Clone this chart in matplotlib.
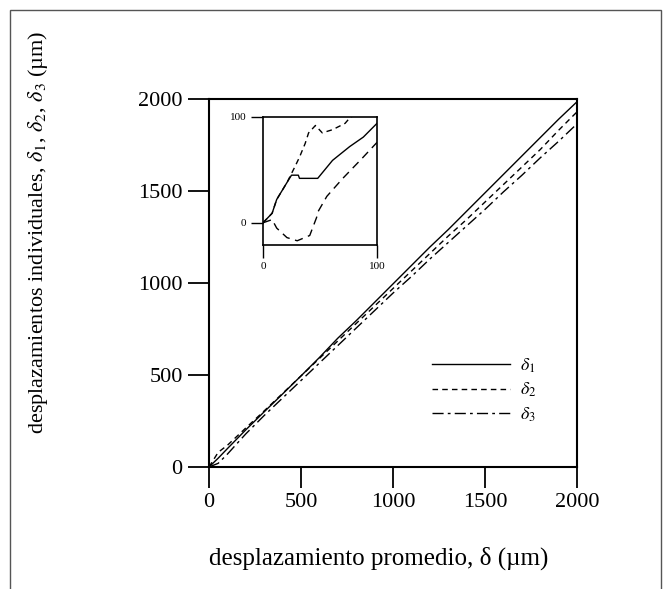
import matplotlib
matplotlib.use("Agg")
import matplotlib.pyplot as plt
from matplotlib.patches import Rectangle

plt.rcParams['font.family'] = ['Liberation Serif', 'DejaVu Serif']
plt.rcParams['mathtext.fontset'] = 'stix'

# main plot: average displacement vs individual displacements (um)
x_main = [0, 50, 100, 200, 300, 400, 500, 600, 700, 800, 900, 1000,
          1100, 1200, 1300, 1400, 1500, 1600, 1700, 1800, 1900, 2000]
d1_main = [0, 48, 100, 202, 300, 397, 495, 595, 700, 795, 895, 995,
           1095, 1195, 1290, 1390, 1490, 1590, 1690, 1790, 1890, 1985]
d2_main = [0, 80, 118, 212, 305, 400, 495, 590, 685, 780, 875, 970,
           1065, 1160, 1255, 1345, 1440, 1535, 1630, 1725, 1830, 1930]
d3_main = [0, 20, 70, 180, 280, 375, 470, 565, 660, 755, 850, 945,
           1035, 1130, 1220, 1310, 1400, 1495, 1585, 1680, 1770, 1865]

# inset: first 100 um
x1_ins = [0, 8, 12, 21, 25, 31, 32, 48, 61, 76, 88, 100]
d1_ins = [0, 9, 22, 38, 45, 45, 42, 42, 59, 72, 81, 94]
x2_ins = [0, 8, 12, 21, 28, 32, 37, 40, 46, 52, 61, 72, 76, 80]
d2_ins = [0, 9, 22, 38, 53, 62, 75, 85, 92, 85, 88, 94, 99, 102]
x3_ins = [0, 8, 12, 21, 30, 41, 47, 48, 56, 70, 87, 100]
d3_ins = [0, 3, -5, -14, -17, -12, 5, 10, 25, 42, 61, 76]

labels = [r'$\delta_1$', r'$\delta_2$', r'$\delta_3$']
styles = ['-', (0, (4, 3)), (0, (8, 3, 2, 3))]

fig = plt.figure(figsize=(6.67, 5.89), dpi=100)

# scanned page frame
fig.patches.append(Rectangle((10 / 667, -0.05), 651 / 667, 1 - 10 / 589 + 0.05,
                             transform=fig.transFigure, fill=False,
                             edgecolor='#555555', linewidth=1.0))

ax = fig.add_axes([209 / 667, 1 - 467 / 589, 368 / 667, 368 / 589])
for xs, d, ls, lab in zip([x_main] * 3, [d1_main, d2_main, d3_main], styles, labels):
    ax.plot(xs, d, color='black', linestyle=ls, linewidth=1.0, label=lab)
ax.set_xlim(0, 2000)
ax.set_ylim(0, 2000)
ax.set_xticks([0, 500, 1000, 1500, 2000])
ax.set_yticks([0, 500, 1000, 1500, 2000])
ax.tick_params(direction='out', length=15, width=1.3, labelsize=16, pad=4)
for s in ax.spines.values():
    s.set_linewidth(1.5)

leg = ax.legend(loc='center left', bbox_to_anchor=(0.606, 0.209), frameon=False,
                handlelength=4.3, fontsize=13, labelspacing=0.35,
                borderaxespad=0, borderpad=0, handletextpad=0.6)

fig.text(379 / 667, 1 - 558 / 589, 'desplazamiento promedio, \u03b4 (\u00b5m)',
         ha='center', va='center', fontsize=18)
fig.text(38 / 667, 1 - 232 / 589,
         r'desplazamientos individuales, $\delta_1$, $\delta_2$, $\delta_3$ (µm)',
         ha='center', va='center', rotation=90, fontsize=16)

ins = fig.add_axes([263 / 667, 1 - 245 / 589, 114 / 667, 128 / 589])
ins.plot(x1_ins, d1_ins, color='black', linestyle=styles[0], linewidth=1.0)
ins.plot(x2_ins, d2_ins, color='black', linestyle=styles[1], linewidth=1.0)
ins.plot(x3_ins, d3_ins, color='black', linestyle=(0, (6, 4)), linewidth=1.0)
ins.set_xlim(0, 100)
ins.set_ylim(-21, 100)
ins.set_xticks([0, 100])
ins.set_yticks([0, 100])
ins.tick_params(direction='out', length=9, width=1.0, labelsize=8, pad=3)
for s in ins.spines.values():
    s.set_linewidth(1.2)

fig.savefig('out.png', dpi=100)
